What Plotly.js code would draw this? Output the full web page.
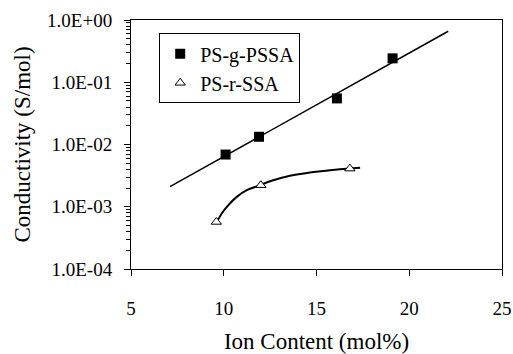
<!DOCTYPE html>
<html>
<head>
<meta charset="utf-8">
<script src="https://cdn.plot.ly/plotly-3.0.1.min.js"></script>
<style>html,body{margin:0;padding:0;background:#fff;}#chart{width:513px;height:354px;}</style>
</head>
<body>
<div id="chart"></div>
<script>
// PS-g-PSSA measured points
var gX = [10.1, 11.9, 16.1, 19.1];
var gY = [0.0069, 0.0133, 0.055, 0.242];
var gFitX = [7.1, 22.1];
var gFitY = [0.0021, 0.66];
// PS-r-SSA measured points
var rX = [9.6, 12.0, 16.8];
var rY = [0.00057, 0.00222, 0.0041];
// PS-r-SSA trend curve
var rFitX = [9.62, 9.89, 10.25, 10.70, 11.24, 11.95, 12.58, 13.57, 14.65, 15.73, 16.81, 17.35];
var rFitY = [0.00057, 0.00078, 0.00106, 0.00144, 0.00185, 0.00222, 0.00261, 0.00314, 0.00356, 0.00387, 0.00413, 0.00422];
// Axis tick labels
var yTickVals = [1e-4, 1e-3, 1e-2, 1e-1, 1];
var yTickText = ["1.0E-04", "1.0E-03", "1.0E-02", "1.0E-01", "1.0E+00"];
var xTickVals = [5, 10, 15, 20, 25];

var data = [
  {x: gFitX, y: gFitY, mode: "lines", line: {color: "black", width: 1.5}, showlegend: false, hoverinfo: "skip"},
  {x: rFitX, y: rFitY, mode: "lines", line: {color: "black", width: 2, shape: "spline", smoothing: 0.6}, showlegend: false, hoverinfo: "skip"},
  {x: gX, y: gY, mode: "markers", name: "PS-g-PSSA",
   marker: {symbol: "square", size: 10, color: "black"}},
  {x: rX, y: rY, mode: "markers", name: "PS-r-SSA",
   marker: {symbol: "triangle-up", size: 9, color: "white", line: {color: "black", width: 1}}}
];

Plotly.newPlot("chart", data, {
  width: 513, height: 354,
  margin: {l: 131, r: 11, t: 20, b: 85},
  font: {family: "Liberation Serif", size: 19, color: "black"},
  showlegend: true,
  legend: {
    x: 0.076, y: 0.9465, xanchor: "left", yanchor: "top",
    bordercolor: "black", borderwidth: 1, bgcolor: "white",
    font: {family: "Liberation Serif", size: 20},
    itemwidth: 30
  },
  xaxis: {
    range: [5, 25], tickmode: "array", tickvals: xTickVals,
    ticks: "outside", ticklen: 6, tickcolor: "black",
    showline: true, linecolor: "black", mirror: true,
    showgrid: false, zeroline: false,
    ticklabelstandoff: 16,
    title: {text: "Ion Content (mol%)", font: {family: "Liberation Serif", size: 23}, standoff: 19}
  },
  yaxis: {
    type: "log", range: [-4, 0],
    tickmode: "array", tickvals: yTickVals, ticktext: yTickText,
    ticks: "outside", ticklen: 6, tickcolor: "black",
    minor: {dtick: "D1", ticks: "outside", ticklen: 4, tickcolor: "black", showgrid: false},
    showline: true, linecolor: "black", mirror: true,
    showgrid: false, zeroline: false,
    ticklabelstandoff: 8,
    title: {text: "Conductivity (S/mol)", font: {family: "Liberation Serif", size: 23}, standoff: 10}
  }
}, {displayModeBar: false});
</script>
</body>
</html>
